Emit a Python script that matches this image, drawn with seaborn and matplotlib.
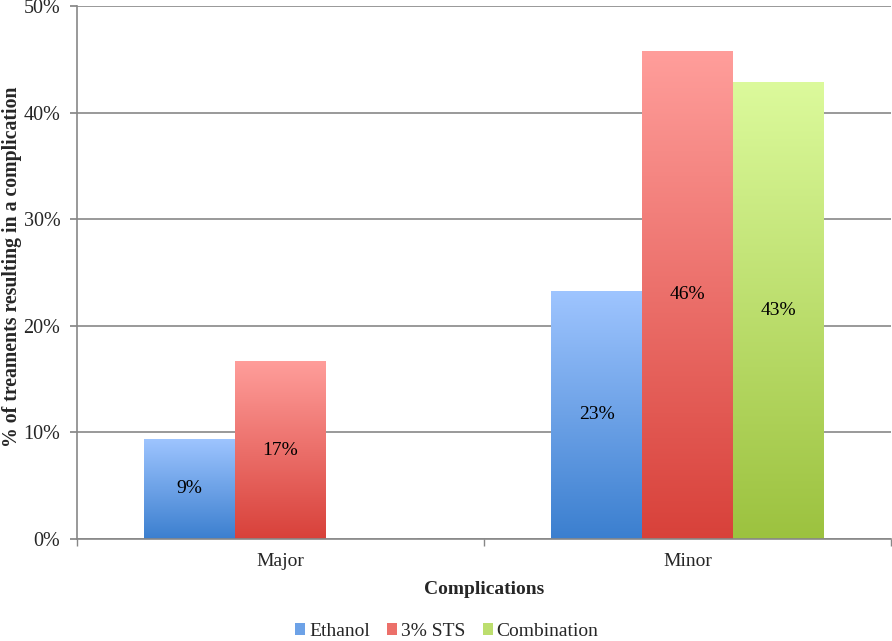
import numpy as np
import pandas as pd
import matplotlib
matplotlib.use("Agg")
import matplotlib.pyplot as plt
import matplotlib.colors as mcolors
from matplotlib.patches import Patch
import seaborn as sns

# Dados do gráfico
categories = ["Major", "Minor"]
treatments = ["Ethanol", "3% STS", "Combination"]
ethanol = [9.4, 23.3]
sts = [16.7, 45.8]
combination = [0.0, 42.9]

# cores do degradê (topo, base) estilo Excel
top_colors = ["#9fc5ff", "#ff9e9b", "#dcfa9c"]
bottom_colors = ["#3b7fcf", "#d8413a", "#9cc23f"]

df = pd.DataFrame({
    "Complications": categories * 3,
    "Treatment": [t for t in treatments for _ in categories],
    "Value": ethanol + sts + combination,
})

sns.set_theme(style="white")
plt.rcParams["font.family"] = ["Liberation Serif", "DejaVu Serif"]

fig = plt.figure(figsize=(8.92, 6.41), dpi=100)
ax = fig.add_axes([0.0863, 0.1591, 0.9126, 0.8315])

sns.barplot(data=df, x="Complications", y="Value", hue="Treatment",
            hue_order=treatments, palette=top_colors, width=0.67,
            legend=False, ax=ax, zorder=2)

ax.set_ylim(0, 50)
ax.set_xlim(-0.5, 1.5)

# degradê vertical em cada barra
for i, cont in enumerate(ax.containers):
    cmap = mcolors.LinearSegmentedColormap.from_list(
        f"g{i}", [bottom_colors[i], top_colors[i]])
    grad = np.linspace(0, 1, 256).reshape(-1, 1)
    for p in cont.patches:
        if p.get_height() <= 0:
            continue
        x0, y0 = p.get_x(), p.get_y()
        x1, y1 = x0 + p.get_width(), y0 + p.get_height()
        im = ax.imshow(grad, cmap=cmap, origin="lower", aspect="auto",
                       extent=[x0, x1, y0, y1], zorder=2.5)
        im.set_clip_path(p)
        p.set_facecolor("none")
        p.set_edgecolor("none")
    labels = [f"{v:.0f}%" if v > 0 else "" for v in cont.datavalues]
    ax.bar_label(cont, labels=labels, label_type="center", fontsize=14,
                 color="black", zorder=4)

ax.set_xlim(-0.5, 1.5)
ax.set_ylim(0, 50)

# eixos e grade
ax.set_yticks([0, 10, 20, 30, 40, 50])
ax.set_yticklabels([f"{v}%" for v in [0, 10, 20, 30, 40, 50]], fontsize=14.5)
ax.yaxis.grid(True, color="#878787", linewidth=1.2)
ax.set_axisbelow(True)
ax.tick_params(axis="y", length=5, color="#878787", direction="out", left=True, pad=7)
ax.set_xticks([0, 1])
ax.set_xticklabels(categories, fontsize=14)
ax.tick_params(axis="x", length=0, pad=10)
ax.set_xticks([-0.5, 0.5, 1.5], minor=True)
ax.tick_params(axis="x", which="minor", length=5, color="#878787",
               direction="out", bottom=True)

for side in ["top", "right"]:
    ax.spines[side].set_visible(False)
for side in ["left", "bottom"]:
    ax.spines[side].set_color("#878787")
    ax.spines[side].set_linewidth(1.2)

ax.set_xlabel("Complications", fontsize=14, fontweight="bold", labelpad=8)
ax.set_ylabel("% of treaments resulting in a complication", fontsize=14.2,
              fontweight="bold")
ax.yaxis.set_label_coords(-0.068, 0.51)

handles = [Patch(facecolor=c, edgecolor="none") for c in
           [mcolors.to_hex(np.mean([mcolors.to_rgb(t), mcolors.to_rgb(b)], axis=0))
            for t, b in zip(top_colors, bottom_colors)]]
fig.legend(handles, treatments, loc="center", bbox_to_anchor=(0.501, 0.015),
           ncol=3, frameon=False, fontsize=14, handlelength=0.5,
           handleheight=0.5, handletextpad=0.2, columnspacing=0.9,
           borderpad=0.1)

fig.savefig("out.png", dpi=100)
